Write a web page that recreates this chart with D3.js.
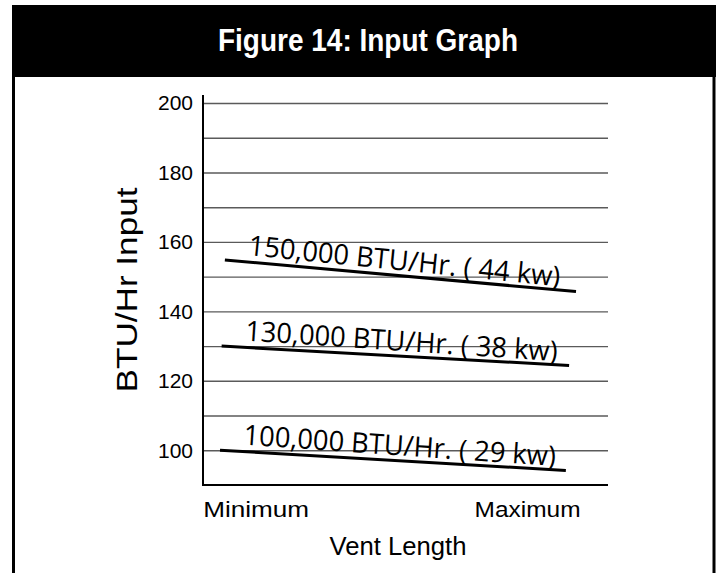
<!DOCTYPE html>
<html>
<head>
<meta charset="utf-8">
<script src="https://cdn.jsdelivr.net/npm/d3@7"></script>
<style>
  body { margin: 0; background: #fff; }
  svg { display: block; }
</style>
</head>
<body>
<div id="chart"></div>
<script>
// <-- Data -->
var titleText = "Figure 14: Input Graph";
var yTitle = "BTU/Hr Input";
var xTitle = "Vent Length";

var yTickValues = [100, 120, 140, 160, 180, 200];
var gridValues = [100, 110, 120, 130, 140, 150, 160, 170, 180, 190, 200];

// x is a 0..100 position along the vent length axis
var xTickPos = [13, 80];
var xTickLabels = ["Minimum", "Maximum"];

var seriesNames = ["150,000 BTU/Hr. ( 44 kw)", "130,000 BTU/Hr. ( 38 kw)", "100,000 BTU/Hr. ( 29 kw)"];
var seriesX = [[5.4, 92.1], [4.6, 90.4], [4.2, 89.6]];
var seriesY = [[154.8, 145.7], [130, 124.4], [100, 94.2]];

;(function(){
  var width = 717, height = 573;

  var svg = d3.select("#chart")
              .append("svg")
              .attr("width", width)
              .attr("height", height);

  svg.append("rect")
     .attr("width", width).attr("height", height)
     .attr("fill", "#fff");

  // frame + title band
  svg.append("rect")
     .attr("x", 12).attr("y", 5)
     .attr("width", 704).attr("height", 72)
     .attr("fill", "#000");
  svg.append("line")
     .attr("x1", 13.5).attr("x2", 13.5)
     .attr("y1", 76).attr("y2", height)
     .attr("stroke", "#000").attr("stroke-width", 3);
  svg.append("line")
     .attr("x1", 714).attr("x2", 714)
     .attr("y1", 76).attr("y2", height)
     .attr("stroke", "#000").attr("stroke-width", 3);

  svg.append("text")
     .attr("x", 368).attr("y", 51)
     .attr("text-anchor", "middle")
     .attr("fill", "#fff")
     .style("font-family", "'Liberation Sans', Arial, sans-serif")
     .style("font-weight", "bold")
     .style("font-size", "31px")
     .attr("textLength", 300)
     .attr("lengthAdjust", "spacingAndGlyphs")
     .text(titleText);

  // scales
  var x = d3.scaleLinear().domain([0, 100]).range([203, 608]);
  var y = d3.scaleLinear().domain([90, 200]).range([485, 103]);

  // grid
  var grid = svg.append("g")
                .attr("transform", "translate(203,0)")
                .call(d3.axisLeft(y)
                        .tickValues(gridValues)
                        .tickSize(-(608 - 203))
                        .tickFormat(""));
  grid.select(".domain").remove();
  grid.selectAll(".tick line")
      .attr("stroke", "#5a5a5a")
      .attr("stroke-width", 1.4);

  // y labels
  var yAxis = svg.append("g")
                 .attr("transform", "translate(203,0)")
                 .call(d3.axisLeft(y)
                         .tickValues(yTickValues)
                         .tickSize(0)
                         .tickPadding(10));
  yAxis.select(".domain").remove();
  yAxis.selectAll("text")
       .attr("fill", "#000")
       .style("font-family", "'Liberation Sans', Arial, sans-serif")
       .style("font-size", "21px");

  // axis lines
  svg.append("line")
     .attr("x1", 203).attr("x2", 203)
     .attr("y1", 95).attr("y2", y(90))
     .attr("stroke", "#000").attr("stroke-width", 2);
  svg.append("line")
     .attr("x1", 202).attr("x2", 608)
     .attr("y1", y(90)).attr("y2", y(90))
     .attr("stroke", "#000").attr("stroke-width", 2);

  // x labels
  var xAxis = svg.append("g")
                 .attr("transform", "translate(0," + y(90) + ")")
                 .call(d3.axisBottom(x)
                         .tickValues(xTickPos)
                         .tickSize(0)
                         .tickPadding(0)
                         .tickFormat(function(d, i){ return xTickLabels[i]; }));
  xAxis.select(".domain").remove();
  xAxis.selectAll("text")
       .attr("dy", null)
       .attr("y", 32)
       .attr("fill", "#000")
       .style("font-family", "'Liberation Sans', Arial, sans-serif")
       .style("font-size", "22px")
       .attr("textLength", 106)
       .attr("lengthAdjust", "spacingAndGlyphs");

  svg.append("text")
     .attr("x", 398).attr("y", 555)
     .attr("text-anchor", "middle")
     .attr("fill", "#000")
     .style("font-family", "'Liberation Sans', Arial, sans-serif")
     .style("font-size", "25px")
     .attr("textLength", 137)
     .attr("lengthAdjust", "spacingAndGlyphs")
     .text(xTitle);

  svg.append("text")
     .attr("transform", "translate(137,290) rotate(-90)")
     .attr("text-anchor", "middle")
     .attr("fill", "#000")
     .style("font-family", "'Liberation Sans', Arial, sans-serif")
     .style("font-size", "30px")
     .attr("textLength", 205)
     .attr("lengthAdjust", "spacingAndGlyphs")
     .text(yTitle);

  // series lines + labels
  var line = d3.line()
               .x(function(d){ return x(d[0]); })
               .y(function(d){ return y(d[1]); });

  seriesNames.forEach(function(name, i){
    var pts = seriesX[i].map(function(v, j){ return [v, seriesY[i][j]]; });
    svg.append("path")
       .attr("d", line(pts))
       .attr("fill", "none")
       .attr("stroke", "#000")
       .attr("stroke-width", 3);

    var x0 = x(pts[0][0]), y0 = y(pts[0][1]);
    var x1 = x(pts[1][0]), y1 = y(pts[1][1]);
    var slope = (y1 - y0) / (x1 - x0);
    var angle = Math.atan(slope) * 180 / Math.PI + 0.6;
    var lx = x0 + 23;
    var ly = y0 + slope * 23 - 7;
    svg.append("text")
       .attr("transform", "translate(" + lx + "," + ly + ") rotate(" + angle + ")")
       .attr("fill", "#000")
       .style("font-family", "'Open Sans', sans-serif")
       .style("font-size", "28px")
       .attr("textLength", 313)
       .attr("lengthAdjust", "spacingAndGlyphs")
       .text(name);
  });
})();
</script>
</body>
</html>
